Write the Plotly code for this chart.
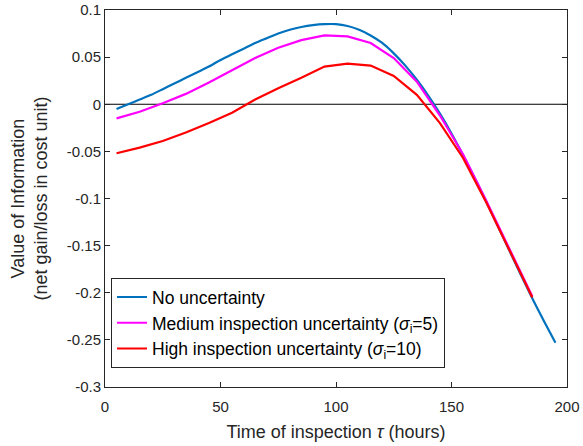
import plotly.graph_objects as go

# Blue: no uncertainty (every 5 h)
t_blue = [5, 10, 15, 20, 25, 30, 35, 40, 45, 50, 55, 60, 65, 70, 75, 80, 85, 90, 95, 100,
          105, 110, 115, 120, 125, 130, 135, 140, 145, 150, 155, 160, 165, 170, 175, 180,
          185, 190, 195]
v_blue = [-0.005, 0.000, 0.005, 0.010, 0.016, 0.022, 0.028, 0.034, 0.040, 0.047, 0.053,
          0.059, 0.065, 0.070, 0.075, 0.079, 0.082, 0.084, 0.085, 0.085, 0.083, 0.079,
          0.073, 0.065, 0.054, 0.041, 0.026, 0.009, -0.010, -0.031, -0.054, -0.078,
          -0.103, -0.129, -0.155, -0.181, -0.206, -0.230, -0.253]

# Magenta / red: every 10 h
t_sig = [5, 15, 25, 35, 45, 55, 65, 75, 85, 95, 105, 115, 125, 135, 145, 155, 165, 175, 185]
v_mag = [-0.015, -0.008, 0.001, 0.011, 0.023, 0.036, 0.049, 0.060, 0.068, 0.073, 0.072,
         0.065, 0.049, 0.024, -0.012, -0.053, -0.102, -0.153, -0.204]
v_red = [-0.052, -0.046, -0.039, -0.030, -0.020, -0.009, 0.005, 0.017, 0.028, 0.040, 0.043,
         0.041, 0.030, 0.010, -0.020, -0.057, -0.104, -0.155, -0.205]

names = ["No uncertainty",
         "Medium inspection uncertainty (<i>σ</i><sub>i</sub>=5)",
         "High inspection uncertainty (<i>σ</i><sub>i</sub>=10)"]
x_ticks = [0, 50, 100, 150, 200]
y_ticks = [0.1, 0.05, 0, -0.05, -0.1, -0.15, -0.2, -0.25, -0.3]
y_labels = ["0.1", "0.05", "0", "-0.05", "-0.1", "-0.15", "-0.2", "-0.25", "-0.3"]

fig = go.Figure()
fig.add_trace(go.Scatter(x=t_blue, y=v_blue, mode="lines", name=names[0],
                         line=dict(color="#0072BD", width=2.2, shape="spline", smoothing=0.6)))
fig.add_trace(go.Scatter(x=t_sig, y=v_mag, mode="lines", name=names[1],
                         line=dict(color="#FF00FF", width=2.2)))
fig.add_trace(go.Scatter(x=t_sig, y=v_red, mode="lines", name=names[2],
                         line=dict(color="#FF0000", width=2.2)))
fig.add_shape(type="line", x0=0, x1=200, y0=0, y1=0, xref="x", yref="y",
              line=dict(color="black", width=1), layer="below")

axis_common = dict(showgrid=False, zeroline=False, showline=True, mirror="ticks",
                   linecolor="#262626", linewidth=1, ticks="inside", ticklen=5,
                   tickcolor="#262626", tickfont=dict(size=15, color="#262626"),
                   automargin=False)
fig.update_xaxes(range=[0, 200], tickvals=x_ticks, ticklabelstandoff=6,
                 title=dict(text="Time of inspection <i>τ</i> (hours)",
                            font=dict(size=18, color="#262626"), standoff=11),
                 **axis_common)
fig.update_yaxes(range=[-0.3, 0.1], tickvals=y_ticks, ticktext=y_labels,
                 title=dict(text="Value of Information<br>(net gain/loss in cost unit)",
                            font=dict(size=18, color="#262626"), standoff=14),
                 **axis_common)
fig.update_layout(
    width=583, height=446,
    margin=dict(l=105, r=16, t=10, b=59),
    paper_bgcolor="white", plot_bgcolor="white",
    font=dict(family="Liberation Sans, Arial, sans-serif", color="#262626"),
    legend=dict(x=0.013, y=0.05, xanchor="left", yanchor="bottom",
                bgcolor="white", bordercolor="#262626", borderwidth=1,
                font=dict(size=17.5, color="black"), tracegroupgap=0,
                itemwidth=30),
)
fig.write_html("out.html", config={"displayModeBar": False},
               post_script="document.body.style.margin='0';document.body.style.padding='0';")
